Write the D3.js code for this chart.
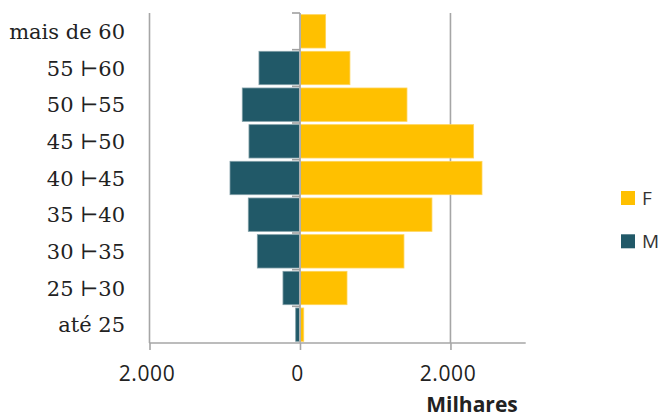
<!DOCTYPE html>
<html>
<head>
<meta charset="utf-8">
<script src="https://cdn.jsdelivr.net/npm/d3@7"></script>
<style>
  html, body { margin: 0; padding: 0; background: #fff; }
  svg { display: block; }
</style>
</head>
<body>
<svg id="chart" width="664" height="418"></svg>
<script>
// Age groups, top to bottom
const categories = ["mais de 60", "55 ⊢60", "50 ⊢55", "45 ⊢50", "40 ⊢45", "35 ⊢40", "30 ⊢35", "25 ⊢30", "até 25"];
// Values in thousands
const femValues  = [341, 664, 1422, 2308, 2419, 1754, 1382, 625, 50];
const mascValues = [0, 545, 767, 678, 930, 687, 567, 226, 57];
const xTicks = [-2000, 0, 2000];
const seriesNames = ["F", "M"];
const seriesColors = ["#FFC000", "#215968"];

const svg = d3.select("#chart");
const plot = { left: 149.5, right: 525.7, top: 13, bottom: 343 };

const x = d3.scaleLinear().domain([-2000, 3000]).range([plot.left, plot.right]);
const y = d3.scaleBand().domain(categories).range([plot.top, plot.bottom]).paddingInner(0.09).paddingOuter(0.045);

const grid = "#a6a6a6";
const fmt = v => d3.format(",")(Math.abs(v)).replace(/,/g, ".");

// vertical gridlines at ±2000
svg.append("g").selectAll("line").data([-2000, 2000]).join("line")
  .attr("x1", d => x(d)).attr("x2", d => x(d))
  .attr("y1", plot.top).attr("y2", plot.bottom)
  .attr("stroke", grid).attr("stroke-width", 1.6);

// bars: F to the right, M to the left
const rows = categories.map((c, i) => ({ c, f: femValues[i], m: -mascValues[i] }));
svg.append("g").selectAll("rect").data(rows).join("rect")
  .attr("x", x(0)).attr("y", d => y(d.c))
  .attr("width", d => x(d.f) - x(0)).attr("height", y.bandwidth())
  .attr("fill", seriesColors[0]).attr("stroke", "#ffd45a").attr("stroke-width", 0.8);
svg.append("g").selectAll("rect").data(rows.filter(d => d.m < 0)).join("rect")
  .attr("x", d => x(d.m)).attr("y", d => y(d.c))
  .attr("width", d => x(0) - x(d.m)).attr("height", y.bandwidth())
  .attr("fill", seriesColors[1]).attr("stroke", "#7f9ea6").attr("stroke-width", 0.8);

// x axis
const xAxis = svg.append("g").attr("transform", `translate(0,${plot.bottom})`)
  .call(d3.axisBottom(x).tickValues(xTicks).tickSize(7).tickPadding(16).tickFormat(fmt));
xAxis.select(".domain").attr("stroke", grid).attr("stroke-width", 1.6).attr("d", `M${plot.left},0H${plot.right}`);
xAxis.selectAll(".tick line").attr("stroke", grid).attr("stroke-width", 1.6);
xAxis.selectAll(".tick text")
  .attr("font-family", "'Open Sans', sans-serif").attr("font-size", 21)
  .attr("letter-spacing", 0.6).attr("fill", "#222").attr("dx", -3);

// category axis on the zero line, ticks at band boundaries
const zx = x(0);
svg.append("line").attr("x1", zx).attr("x2", zx).attr("y1", plot.top).attr("y2", plot.bottom)
  .attr("stroke", "#b0b0b0").attr("stroke-width", 2);
const step = (plot.bottom - plot.top) / categories.length;
svg.append("g").selectAll("line").data(d3.range(categories.length)).join("line")
  .attr("x1", zx - 8).attr("x2", zx)
  .attr("y1", i => plot.top + i * step).attr("y2", i => plot.top + i * step)
  .attr("stroke", "#a0a0a0").attr("stroke-width", 1.6);

// category labels
svg.append("g").selectAll("text").data(categories).join("text")
  .attr("x", 125).attr("y", d => y(d) + y.bandwidth() / 2)
  .attr("dy", "0.36em").attr("text-anchor", "end")
  .attr("font-family", "'DejaVu Serif', serif").attr("font-size", 21)
  .attr("fill", "#222").text(d => d);

// axis title
svg.append("text").attr("x", 472).attr("y", 412).attr("text-anchor", "middle")
  .attr("font-family", "'Open Sans', sans-serif").attr("font-weight", "bold")
  .attr("font-size", 21).attr("fill", "#222").text("Milhares");

// legend
const leg = svg.append("g").selectAll("g").data(seriesNames).join("g")
  .attr("transform", (d, i) => `translate(621,${191 + i * 43.3})`);
leg.append("rect").attr("width", 14).attr("height", 14).attr("fill", (d, i) => seriesColors[i]);
leg.append("text").attr("x", 21).attr("y", 14)
  .attr("font-family", "'Open Sans', sans-serif").attr("font-size", 19)
  .attr("fill", "#333").text(d => d);
</script>
</body>
</html>
